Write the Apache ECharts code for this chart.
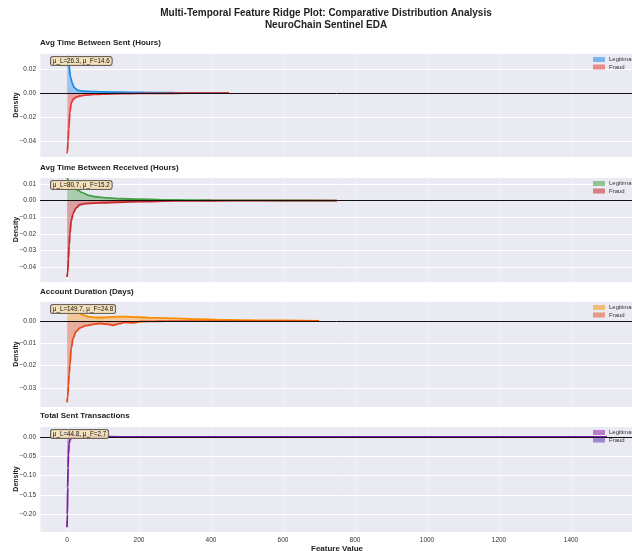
<!DOCTYPE html>
<html>
<head>
<meta charset="utf-8">
<script src="https://cdn.jsdelivr.net/npm/echarts@6/dist/echarts.min.js"></script>
<style>html,body{margin:0;padding:0;background:#fff}#c{width:632px;height:551px}</style>
</head>
<body>
<div id="c"></div>
<script>
// ---------- DATA ----------
const panelTitles = ["Avg Time Between Sent (Hours)", "Avg Time Between Received (Hours)", "Account Duration (Days)", "Total Sent Transactions"];
const annotations = ["μ_L=26.3, μ_F=14.6", "μ_L=80.7, μ_F=15.2", "μ_L=149.7, μ_F=24.8", "μ_L=44.8, μ_F=2.7"];
const legendNames = ["Legitimate", "Fraud"];
const xTicks = [0, 200, 400, 600, 800, 1000, 1200, 1400];

// Panel 1: Avg Time Between Sent
const sentLegitX = [0, 2, 5, 10, 15, 20, 30, 40, 60, 80, 100, 150, 200, 250, 300, 350, 400, 450];
const sentLegitY = [0.031, 0.030, 0.024, 0.013, 0.008, 0.0045, 0.0022, 0.0016, 0.0013, 0.0011, 0.0009, 0.0006, 0.0004, 0.0003, 0.0002, 0.00015, 0.0001, 0.00005];
const sentFraudX = [0, 1, 3, 5, 8, 12, 18, 25, 35, 50, 75, 100, 150, 200, 250, 300, 350, 400, 450];
const sentFraudY = [-0.0503, -0.049, -0.040, -0.030, -0.016, -0.008, -0.005, -0.0035, -0.0025, -0.0018, -0.0012, -0.0009, -0.0006, -0.0004, -0.0003, -0.0002, -0.0001, -0.00005, -0.00002];

// Panel 2: Avg Time Between Received
const recvLegitX = [0, 5, 10, 20, 30, 40, 60, 80, 100, 150, 200, 300, 400, 500, 600, 750];
const recvLegitY = [0.0135, 0.012, 0.0105, 0.008, 0.0062, 0.005, 0.0032, 0.0023, 0.0018, 0.0011, 0.0008, 0.0004, 0.0002, 0.0001, 0.00005, 0.00002];
const recvFraudX = [0, 2, 4, 6, 8, 12, 17, 25, 36, 50, 75, 100, 140, 200, 300, 400, 500, 600, 750];
const recvFraudY = [-0.046, -0.043, -0.035, -0.027, -0.020, -0.012, -0.0078, -0.0045, -0.0025, -0.0018, -0.0015, -0.0013, -0.001, -0.0006, -0.0002, -0.0001, -0.00005, -0.00002, -0.00001];

// Panel 3: Account Duration
const durLegitX = [0, 5, 10, 20, 30, 45, 60, 80, 100, 130, 160, 200, 250, 300, 370, 450, 550, 700];
const durLegitY = [0.0072, 0.0070, 0.0062, 0.0050, 0.0040, 0.0027, 0.0019, 0.0016, 0.0016, 0.0019, 0.0020, 0.0017, 0.0014, 0.0012, 0.0008, 0.0005, 0.0003, 0.0001];
const durFraudX = [0, 2, 4, 6, 8, 12, 17, 25, 36, 50, 73, 92, 110, 128, 145, 160, 185, 205, 250, 300, 400, 500, 700];
const durFraudY = [-0.0365, -0.034, -0.029, -0.024, -0.0197, -0.012, -0.0078, -0.0048, -0.0031, -0.0022, -0.0015, -0.0011, -0.0014, -0.0019, -0.0012, -0.0006, -0.0008, -0.0002, -0.0001, -0.00005, -0.00002, -0.00001, 0];

// Panel 4: Total Sent Transactions
const txLegitX = [0, 2, 5, 10, 20, 40, 80, 150, 300, 600, 1000, 1500];
const txLegitY = [0.010, 0.008, 0.005, 0.003, 0.0015, 0.0008, 0.0004, 0.0002, 0.0001, 0.00005, 0.00002, 0.00001];
const txFraudX = [0, 1, 2, 3, 4, 6, 8, 12, 20, 40, 100, 200, 400, 800, 1500];
const txFraudY = [-0.233, -0.20, -0.13, -0.08, -0.046, -0.018, -0.008, -0.003, -0.001, -0.0004, -0.0001, -0.00005, 0, 0, 0];

// y-axis limits per panel
const yMins = [-0.0533, -0.049, -0.0386, -0.245];
const yMaxs = [0.0333, 0.0142, 0.009, 0.028];
const yTickSteps = [0.02, 0.01, 0.01, 0.05];
const xMin = -75, xMax = 1575;

// ---------- STYLE ----------
const legitColors = ["#1e88e5", "#43a047", "#fb8c00", "#8e24aa"];
const fraudColors = ["#e53935", "#c62828", "#e64a19", "#7b1fa2"];
const legitFills = ["rgba(30,136,229,0.55)", "rgba(67,160,71,0.55)", "rgba(251,140,0,0.5)", "rgba(142,36,170,0.55)"];
const fraudFills = ["rgba(229,57,53,0.55)", "rgba(198,40,40,0.55)", "rgba(230,74,25,0.55)", "rgba(123,31,162,0.5)"];
const legendLegit = ["rgba(30,136,229,0.55)", "rgba(67,160,71,0.55)", "rgba(251,140,0,0.5)", "rgba(142,36,170,0.55)"];
const legendFraud = ["rgba(229,57,53,0.55)", "rgba(198,40,40,0.55)", "rgba(230,74,25,0.5)", "rgba(94,53,177,0.55)"];

const gridTops = [53, 177, 301, 426];
const gridHeights = [104, 105, 106, 106];
const titleYs = [44, 169, 293, 417];
const FONT = '"Liberation Sans", Arial, sans-serif';

const legitSets = [[sentLegitX, sentLegitY], [recvLegitX, recvLegitY], [durLegitX, durLegitY], [txLegitX, txLegitY]];
const fraudSets = [[sentFraudX, sentFraudY], [recvFraudX, recvFraudY], [durFraudX, durFraudY], [txFraudX, txFraudY]];
const pair = (xs, ys) => xs.map((v, i) => [v, ys[i]]);

const fmtNum = (v, d) => {
  const s = Math.abs(v).toFixed(d);
  return (v < -1e-12 ? '\u2212' : '') + s;
};
const isMult = (v, step) => Math.abs(v / step - Math.round(v / step)) < 1e-6;

const grids = [], xAxes = [], yAxes = [], series = [], graphics = [];

for (let p = 0; p < 4; p++) {
  grids.push({ left: 40, right: -2, top: gridTops[p], height: gridHeights[p], show: true, backgroundColor: '#eaeaf2', borderWidth: 0, containLabel: false, outerBoundsMode: 'none' });
  xAxes.push({
    type: 'value', gridIndex: p, min: xMin, max: xMax, splitNumber: 8,
    axisLine: { show: false }, axisTick: { show: false },
    axisLabel: {
      show: p === 3, fontSize: 6.5, color: '#333', fontFamily: FONT, margin: 5,
      showMinLabel: false, showMaxLabel: false,
      formatter: v => (xTicks.indexOf(Math.round(v)) >= 0 && isMult(v, 200)) ? String(Math.round(v)) : ''
    },
    splitLine: { show: true, lineStyle: { color: 'rgba(255,255,255,0.6)', width: 0.8 } },
    name: p === 3 ? 'Feature Value' : '', nameLocation: 'middle', nameGap: 13, nameMoveOverlap: false,
    nameTextStyle: { fontSize: 8, fontWeight: 'bold', color: '#222', fontFamily: FONT }
  });
  const step = yTickSteps[p];
  yAxes.push({
    type: 'value', gridIndex: p, min: yMins[p], max: yMaxs[p], splitNumber: 5,
    axisLine: { show: false }, axisTick: { show: false },
    axisLabel: {
      fontSize: 6.5, color: '#333', fontFamily: FONT, margin: 4,
      showMinLabel: false, showMaxLabel: false,
      formatter: v => isMult(v, step) ? fmtNum(v, 2) : ''
    },
    splitLine: { show: true, lineStyle: { color: '#ffffff', width: 1 } },
    name: 'Density', nameLocation: 'middle', nameGap: 20, nameRotate: 90, nameMoveOverlap: false,
    nameTextStyle: { fontSize: 7, fontWeight: 'bold', color: '#222', fontFamily: FONT }
  });

  series.push({
    name: legendNames[0], type: 'line', xAxisIndex: p, yAxisIndex: p,
    data: pair(legitSets[p][0], legitSets[p][1]),
    showSymbol: false, smooth: 0.3, smoothMonotone: 'x',
    lineStyle: { color: legitColors[p], width: 1.8 },
    itemStyle: { color: legitColors[p] },
    areaStyle: { color: legitFills[p], origin: 0 },
    markLine: {
      silent: true, symbol: 'none', label: { show: false },
      lineStyle: { color: '#111', width: 1, type: 'solid' },
      data: [{ yAxis: 0 }]
    },
    z: 3
  });
  series.push({
    name: legendNames[1], type: 'line', xAxisIndex: p, yAxisIndex: p,
    data: pair(fraudSets[p][0], fraudSets[p][1]),
    showSymbol: false, smooth: 0.3, smoothMonotone: 'x',
    lineStyle: { color: fraudColors[p], width: 1.8 },
    itemStyle: { color: fraudColors[p] },
    areaStyle: { color: fraudFills[p], origin: 0 },
    z: 3
  });

  // panel title
  graphics.push({ type: 'text', left: 40, top: titleYs[p] - 5, style: { text: panelTitles[p], font: 'bold 8px ' + FONT, fill: '#222' } });
  // annotation box
  graphics.push({
    type: 'text', left: 50, top: gridTops[p] + 3, z: 100,
    style: {
      text: annotations[p], font: '6.3px ' + FONT, fill: '#111',
      backgroundColor: 'rgba(245,222,179,0.85)', borderColor: '#444', borderWidth: 0.8,
      borderRadius: 2.5, padding: [1.5, 2, 1, 2]
    }
  });
  // legend
  const ly = gridTops[p] + 4;
  graphics.push({ type: 'rect', left: 593, top: ly, z: 100, shape: { width: 12, height: 5 }, style: { fill: legendLegit[p] } });
  graphics.push({ type: 'text', left: 609, top: ly - 0.5, z: 100, style: { text: legendNames[0], font: '6px ' + FONT, fill: '#333' } });
  graphics.push({ type: 'rect', left: 593, top: ly + 7.5, z: 100, shape: { width: 12, height: 5 }, style: { fill: legendFraud[p] } });
  graphics.push({ type: 'text', left: 609, top: ly + 7, z: 100, style: { text: legendNames[1], font: '6px ' + FONT, fill: '#333' } });
}

graphics.push({ type: 'text', x: 326, y: 8, style: { text: 'Multi-Temporal Feature Ridge Plot: Comparative Distribution Analysis', font: 'bold 10px ' + FONT, fill: '#222', align: 'center', verticalAlign: 'top' } });
graphics.push({ type: 'text', x: 326, y: 20, style: { text: 'NeuroChain Sentinel EDA', font: 'bold 10px ' + FONT, fill: '#222', align: 'center', verticalAlign: 'top' } });

const chart = echarts.init(document.getElementById('c'), null, { renderer: 'canvas' });
chart.setOption({
  backgroundColor: '#ffffff',
  animation: false,
  grid: grids,
  xAxis: xAxes,
  yAxis: yAxes,
  series: series,
  graphic: graphics
});
</script>
</body>
</html>
